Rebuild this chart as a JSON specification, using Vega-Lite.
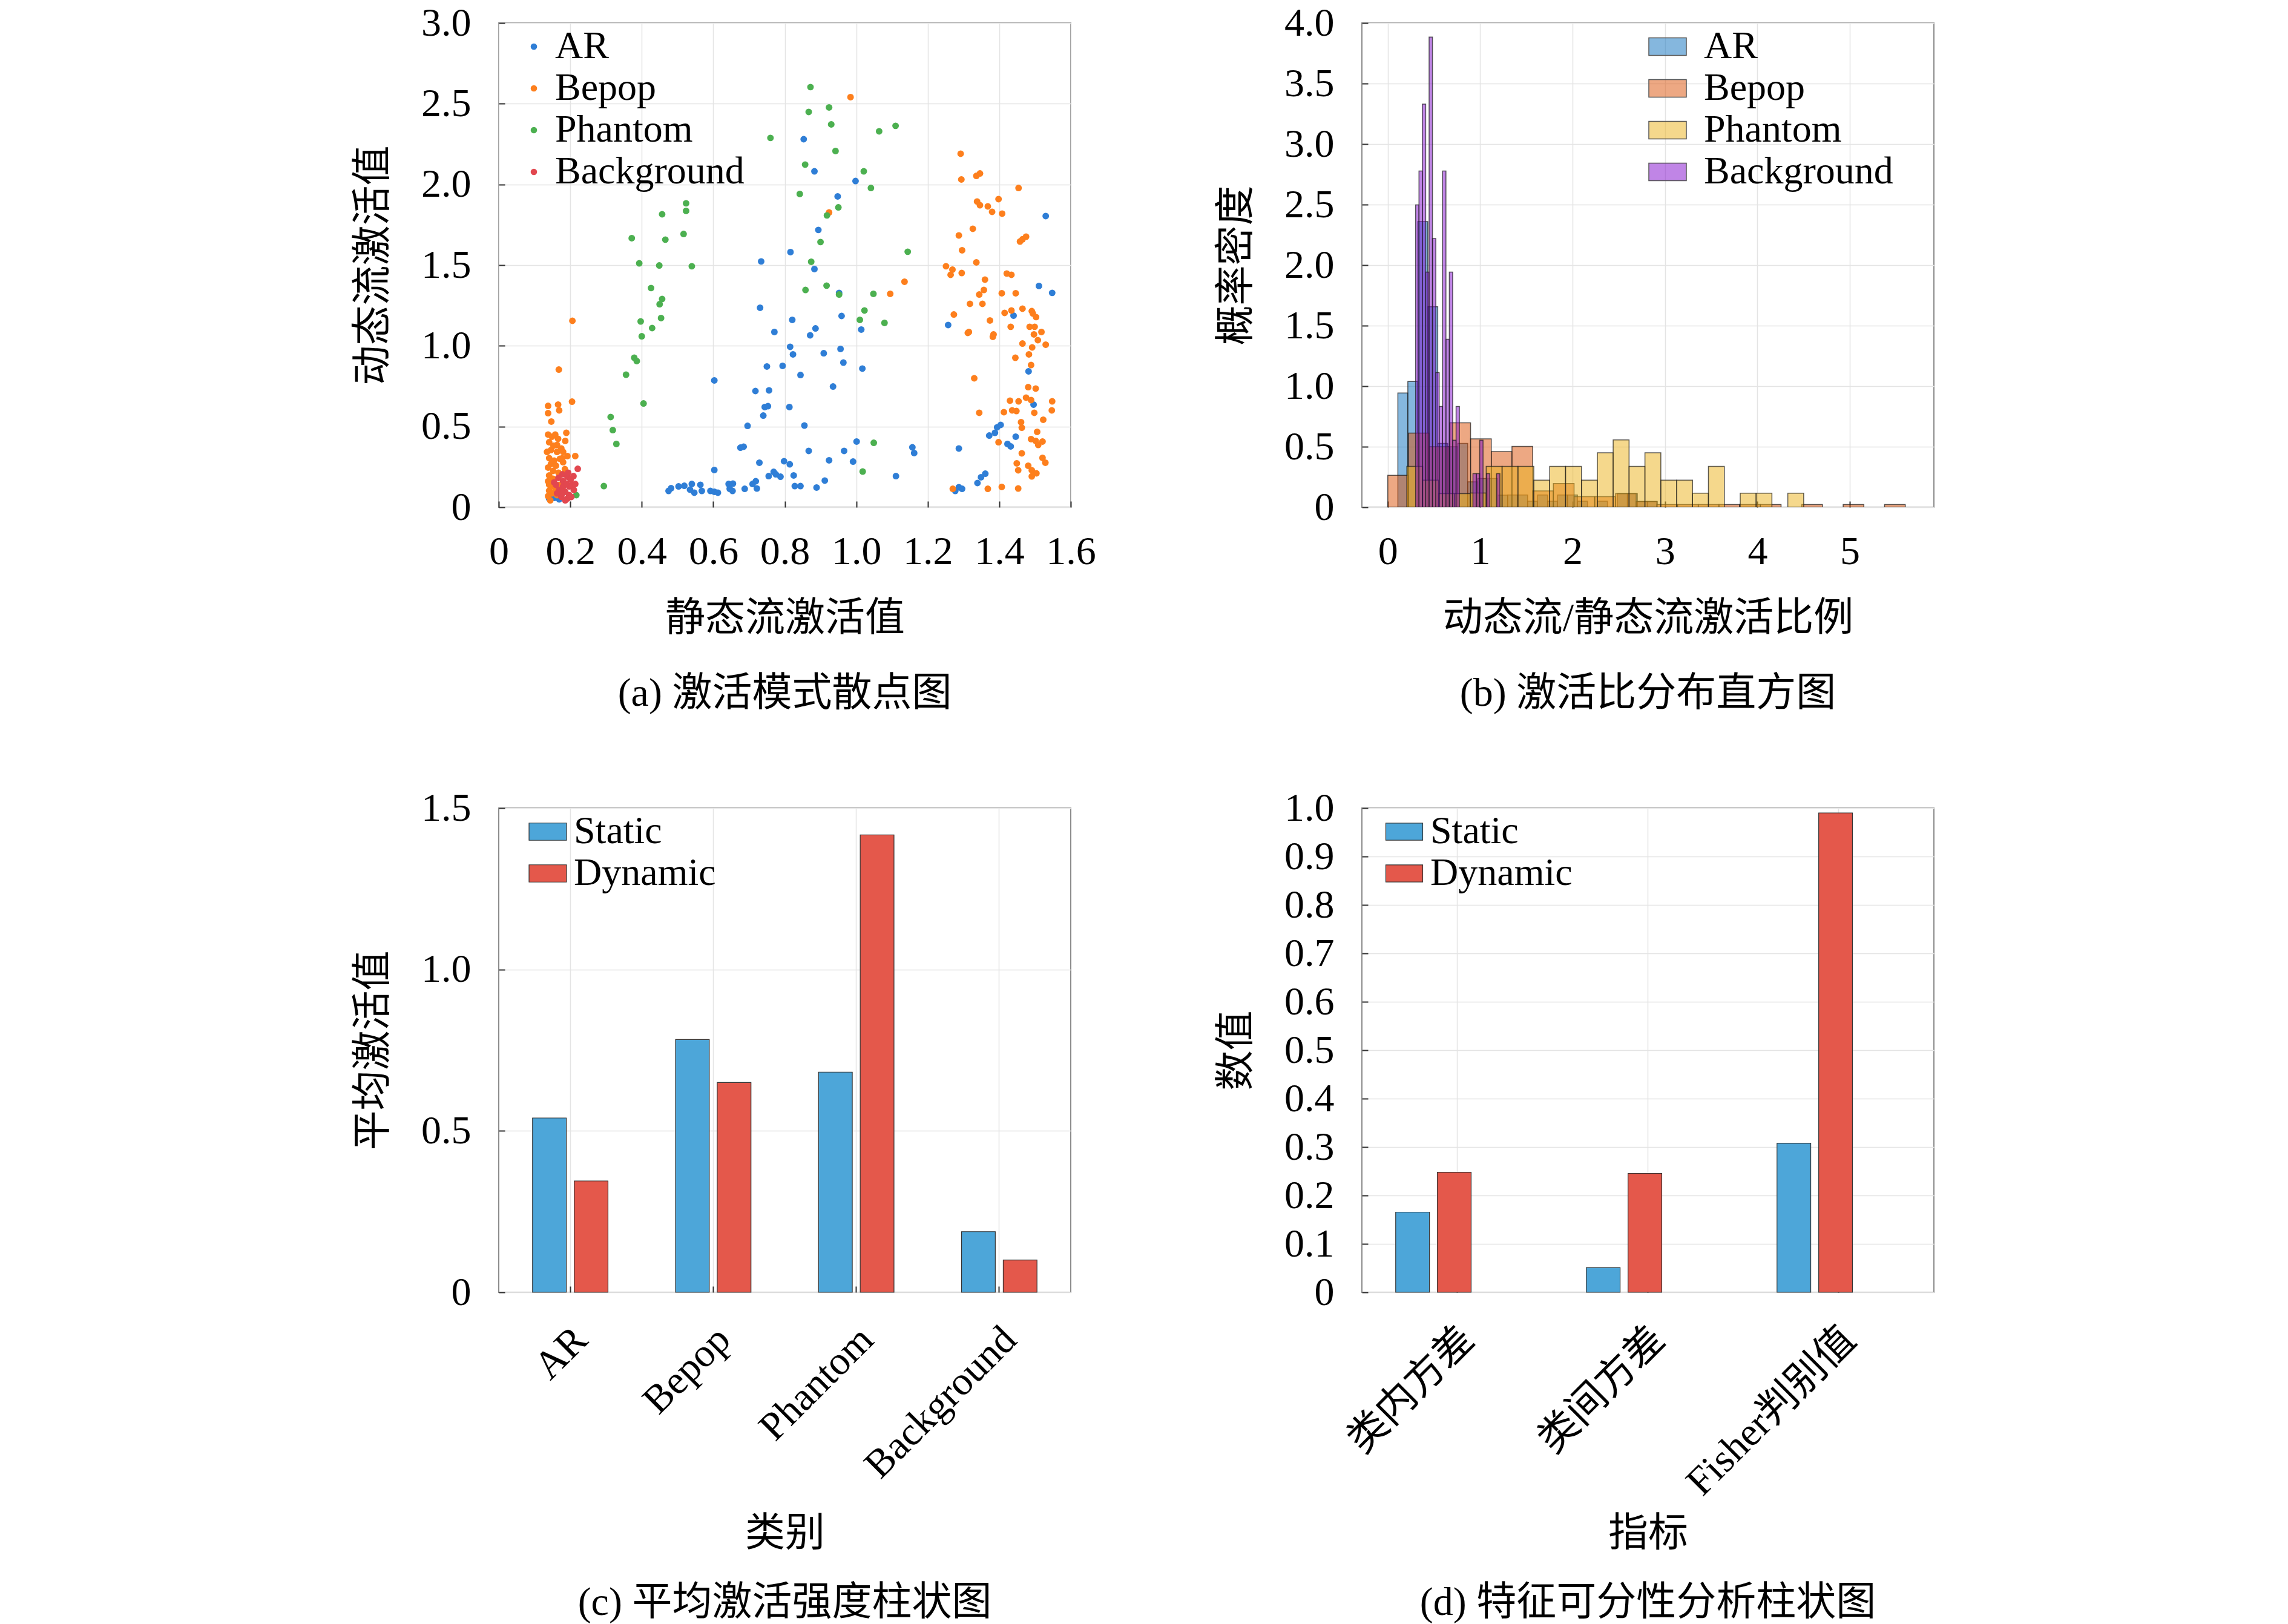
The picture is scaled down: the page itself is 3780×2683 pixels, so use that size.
{
  "$schema": "https://vega.github.io/schema/vega-lite/v6.json",
  "background": "white",
  "padding": {"left": 582, "top": 4, "right": 10, "bottom": 5},
  "autosize": {"type": "pad"},
  "bounds": "flush",
  "columns": 2,
  "spacing": {"row": 497, "column": 481},
  "resolve": {"scale": {"color": "independent", "fill": "independent", "x": "independent", "y": "independent"}, "legend": {"color": "independent", "fill": "independent"}},
  "config": {
    "view": {"stroke": "#8c8c8c", "strokeWidth": 2},
    "axis": {
      "labelFont": "Liberation Serif, Noto Sans CJK SC", "labelFontSize": 66, "labelColor": "#000",
      "titleFont": "Liberation Serif, Noto Sans CJK SC", "titleFontSize": 66, "titleFontWeight": "normal", "titleColor": "#000",
      "domain": false, "ticks": true, "tickSize": -10, "tickColor": "#333", "tickWidth": 2,
      "grid": true, "gridColor": "#e4e4e4", "gridWidth": 1.5,
      "labelPadding": 56, "titlePadding": 45, "labelFlush": false, "labelOverlap": false, "labelLimit": 1000
    },
    "legend": {
      "labelFont": "Liberation Serif", "labelFontSize": 64, "labelColor": "#000", "labelLimit": 1000,
      "padding": 0, "rowPadding": 5, "orient": "none", "title": null
    },
    "title": {"font": "Liberation Serif, Noto Sans CJK SC", "fontSize": 66, "fontWeight": "normal", "color": "#000", "orient": "bottom", "offset": 60}
  },
  "datasets": {
    "scatter": [
      {"c":"AR","s":0.853,"d":2.280},{"c":"AR","s":0.883,"d":2.081},{"c":"AR","s":0.998,"d":2.021},{"c":"AR","s":0.948,"d":1.926},{"c":"AR","s":1.530,"d":1.804},{"c":"AR","s":0.894,"d":1.718},{"c":"AR","s":0.816,"d":1.581},{"c":"AR","s":0.734,"d":1.523},{"c":"AR","s":0.883,"d":1.476},{"c":"AR","s":1.511,"d":1.371},{"c":"AR","s":1.548,"d":1.328},{"c":"AR","s":0.952,"d":1.328},{"c":"AR","s":0.731,"d":1.236},{"c":"AR","s":0.959,"d":1.185},{"c":"AR","s":1.440,"d":1.187},{"c":"AR","s":0.821,"d":1.161},{"c":"AR","s":1.257,"d":1.129},{"c":"AR","s":0.886,"d":1.108},{"c":"AR","s":1.014,"d":1.101},{"c":"AR","s":0.771,"d":1.086},{"c":"AR","s":0.871,"d":1.065},{"c":"AR","s":0.815,"d":0.994},{"c":"AR","s":0.823,"d":0.947},{"c":"AR","s":0.956,"d":0.981},{"c":"AR","s":0.909,"d":0.954},{"c":"AR","s":0.964,"d":0.896},{"c":"AR","s":0.794,"d":0.876},{"c":"AR","s":0.750,"d":0.872},{"c":"AR","s":1.017,"d":0.859},{"c":"AR","s":0.603,"d":0.786},{"c":"AR","s":0.844,"d":0.819},{"c":"AR","s":0.935,"d":0.748},{"c":"AR","s":0.718,"d":0.720},{"c":"AR","s":0.756,"d":0.724},{"c":"AR","s":1.482,"d":0.842},{"c":"AR","s":0.744,"d":0.621},{"c":"AR","s":0.753,"d":0.626},{"c":"AR","s":0.740,"d":0.568},{"c":"AR","s":0.813,"d":0.621},{"c":"AR","s":1.496,"d":0.636},{"c":"AR","s":0.696,"d":0.504},{"c":"AR","s":0.855,"d":0.506},{"c":"AR","s":1.394,"d":0.495},{"c":"AR","s":1.404,"d":0.510},{"c":"AR","s":1.372,"d":0.444},{"c":"AR","s":1.388,"d":0.461},{"c":"AR","s":1.446,"d":0.437},{"c":"AR","s":0.676,"d":0.369},{"c":"AR","s":0.685,"d":0.375},{"c":"AR","s":1.001,"d":0.407},{"c":"AR","s":1.423,"d":0.392},{"c":"AR","s":1.432,"d":0.377},{"c":"AR","s":1.157,"d":0.371},{"c":"AR","s":1.162,"d":0.336},{"c":"AR","s":1.287,"d":0.364},{"c":"AR","s":0.867,"d":0.349},{"c":"AR","s":0.966,"d":0.349},{"c":"AR","s":0.924,"d":0.291},{"c":"AR","s":0.798,"d":0.285},{"c":"AR","s":0.729,"d":0.276},{"c":"AR","s":0.814,"d":0.266},{"c":"AR","s":0.991,"d":0.283},{"c":"AR","s":0.603,"d":0.231},{"c":"AR","s":0.769,"d":0.219},{"c":"AR","s":0.775,"d":0.204},{"c":"AR","s":0.755,"d":0.193},{"c":"AR","s":0.788,"d":0.189},{"c":"AR","s":0.825,"d":0.197},{"c":"AR","s":1.111,"d":0.193},{"c":"AR","s":1.361,"d":0.208},{"c":"AR","s":1.349,"d":0.186},{"c":"AR","s":1.339,"d":0.150},{"c":"AR","s":0.912,"d":0.165},{"c":"AR","s":0.828,"d":0.131},{"c":"AR","s":0.844,"d":0.131},{"c":"AR","s":0.889,"d":0.122},{"c":"AR","s":1.287,"d":0.124},{"c":"AR","s":1.277,"d":0.101},{"c":"AR","s":1.296,"d":0.114},{"c":"AR","s":0.710,"d":0.144},{"c":"AR","s":0.719,"d":0.161},{"c":"AR","s":0.722,"d":0.116},{"c":"AR","s":0.688,"d":0.114},{"c":"AR","s":0.643,"d":0.144},{"c":"AR","s":0.655,"d":0.146},{"c":"AR","s":0.646,"d":0.114},{"c":"AR","s":0.654,"d":0.101},{"c":"AR","s":0.592,"d":0.101},{"c":"AR","s":0.603,"d":0.096},{"c":"AR","s":0.613,"d":0.090},{"c":"AR","s":0.568,"d":0.101},{"c":"AR","s":0.564,"d":0.139},{"c":"AR","s":0.540,"d":0.144},{"c":"AR","s":0.535,"d":0.109},{"c":"AR","s":0.547,"d":0.090},{"c":"AR","s":0.519,"d":0.133},{"c":"AR","s":0.503,"d":0.129},{"c":"AR","s":0.482,"d":0.118},{"c":"AR","s":0.475,"d":0.101},{"c":"AR","s":0.141,"d":0.054},{"c":"AR","s":0.155,"d":0.058},{"c":"AR","s":0.169,"d":0.049},
      {"c":"Bepop","s":0.984,"d":2.541},{"c":"Bepop","s":1.292,"d":2.190},{"c":"Bepop","s":1.294,"d":2.031},{"c":"Bepop","s":1.336,"d":2.053},{"c":"Bepop","s":1.346,"d":2.068},{"c":"Bepop","s":1.454,"d":1.978},{"c":"Bepop","s":0.924,"d":1.826},{"c":"Bepop","s":1.338,"d":1.894},{"c":"Bepop","s":1.346,"d":1.871},{"c":"Bepop","s":1.368,"d":1.864},{"c":"Bepop","s":1.398,"d":1.909},{"c":"Bepop","s":1.380,"d":1.830},{"c":"Bepop","s":1.408,"d":1.819},{"c":"Bepop","s":1.326,"d":1.725},{"c":"Bepop","s":1.287,"d":1.684},{"c":"Bepop","s":1.458,"d":1.646},{"c":"Bepop","s":1.475,"d":1.676},{"c":"Bepop","s":1.465,"d":1.660},{"c":"Bepop","s":1.296,"d":1.592},{"c":"Bepop","s":1.336,"d":1.517},{"c":"Bepop","s":1.251,"d":1.493},{"c":"Bepop","s":1.269,"d":1.472},{"c":"Bepop","s":1.264,"d":1.440},{"c":"Bepop","s":1.295,"d":1.451},{"c":"Bepop","s":1.421,"d":1.448},{"c":"Bepop","s":1.434,"d":1.440},{"c":"Bepop","s":1.135,"d":1.397},{"c":"Bepop","s":1.360,"d":1.410},{"c":"Bepop","s":1.357,"d":1.346},{"c":"Bepop","s":1.344,"d":1.318},{"c":"Bepop","s":1.095,"d":1.322},{"c":"Bepop","s":1.407,"d":1.326},{"c":"Bepop","s":1.446,"d":1.326},{"c":"Bepop","s":1.318,"d":1.260},{"c":"Bepop","s":1.353,"d":1.260},{"c":"Bepop","s":1.415,"d":1.204},{"c":"Bepop","s":1.434,"d":1.219},{"c":"Bepop","s":1.465,"d":1.230},{"c":"Bepop","s":1.491,"d":1.215},{"c":"Bepop","s":1.494,"d":1.200},{"c":"Bepop","s":1.503,"d":1.178},{"c":"Bepop","s":1.273,"d":1.194},{"c":"Bepop","s":1.374,"d":1.157},{"c":"Bepop","s":1.315,"d":1.086},{"c":"Bepop","s":1.312,"d":1.080},{"c":"Bepop","s":1.432,"d":1.118},{"c":"Bepop","s":1.485,"d":1.118},{"c":"Bepop","s":1.499,"d":1.118},{"c":"Bepop","s":1.518,"d":1.086},{"c":"Bepop","s":1.384,"d":1.071},{"c":"Bepop","s":1.382,"d":1.056},{"c":"Bepop","s":1.497,"d":1.071},{"c":"Bepop","s":1.508,"d":1.035},{"c":"Bepop","s":1.465,"d":1.014},{"c":"Bepop","s":1.530,"d":1.007},{"c":"Bepop","s":1.492,"d":0.990},{"c":"Bepop","s":1.445,"d":0.926},{"c":"Bepop","s":1.483,"d":0.947},{"c":"Bepop","s":1.489,"d":0.881},{"c":"Bepop","s":1.330,"d":0.799},{"c":"Bepop","s":1.481,"d":0.744},{"c":"Bepop","s":1.502,"d":0.735},{"c":"Bepop","s":1.430,"d":0.660},{"c":"Bepop","s":1.454,"d":0.656},{"c":"Bepop","s":1.475,"d":0.679},{"c":"Bepop","s":1.489,"d":0.664},{"c":"Bepop","s":1.548,"d":0.656},{"c":"Bepop","s":1.344,"d":0.585},{"c":"Bepop","s":1.413,"d":0.589},{"c":"Bepop","s":1.436,"d":0.600},{"c":"Bepop","s":1.448,"d":0.596},{"c":"Bepop","s":1.498,"d":0.585},{"c":"Bepop","s":1.547,"d":0.600},{"c":"Bepop","s":1.461,"d":0.527},{"c":"Bepop","s":1.463,"d":0.493},{"c":"Bepop","s":1.523,"d":0.542},{"c":"Bepop","s":1.506,"d":0.467},{"c":"Bepop","s":1.398,"d":0.403},{"c":"Bepop","s":1.489,"d":0.422},{"c":"Bepop","s":1.502,"d":0.411},{"c":"Bepop","s":1.509,"d":0.386},{"c":"Bepop","s":1.521,"d":0.407},{"c":"Bepop","s":1.463,"d":0.334},{"c":"Bepop","s":1.521,"d":0.306},{"c":"Bepop","s":1.529,"d":0.276},{"c":"Bepop","s":1.449,"d":0.272},{"c":"Bepop","s":1.481,"d":0.257},{"c":"Bepop","s":1.491,"d":0.229},{"c":"Bepop","s":1.453,"d":0.229},{"c":"Bepop","s":1.491,"d":0.191},{"c":"Bepop","s":1.504,"d":0.210},{"c":"Bepop","s":1.270,"d":0.114},{"c":"Bepop","s":1.368,"d":0.114},{"c":"Bepop","s":1.407,"d":0.126},{"c":"Bepop","s":1.453,"d":0.116},
      {"c":"Bepop","s":0.206,"d":1.155},{"c":"Bepop","s":0.168,"d":0.853},{"c":"Bepop","s":0.205,"d":0.654},{"c":"Bepop","s":0.138,"d":0.628},{"c":"Bepop","s":0.166,"d":0.636},{"c":"Bepop","s":0.169,"d":0.600},{"c":"Bepop","s":0.138,"d":0.583},{"c":"Bepop","s":0.147,"d":0.531},{"c":"Bepop","s":0.138,"d":0.450},{"c":"Bepop","s":0.149,"d":0.437},{"c":"Bepop","s":0.158,"d":0.450},{"c":"Bepop","s":0.166,"d":0.424},{"c":"Bepop","s":0.141,"d":0.403},{"c":"Bepop","s":0.153,"d":0.381},{"c":"Bepop","s":0.146,"d":0.354},{"c":"Bepop","s":0.163,"d":0.343},{"c":"Bepop","s":0.175,"d":0.364},{"c":"Bepop","s":0.186,"d":0.411},{"c":"Bepop","s":0.189,"d":0.461},{"c":"Bepop","s":0.180,"d":0.343},{"c":"Bepop","s":0.192,"d":0.317},{"c":"Bepop","s":0.214,"d":0.317},{"c":"Bepop","s":0.141,"d":0.304},{"c":"Bepop","s":0.155,"d":0.289},{"c":"Bepop","s":0.171,"d":0.300},{"c":"Bepop","s":0.146,"d":0.268},{"c":"Bepop","s":0.138,"d":0.246},{"c":"Bepop","s":0.160,"d":0.257},{"c":"Bepop","s":0.180,"d":0.279},{"c":"Bepop","s":0.152,"d":0.225},{"c":"Bepop","s":0.141,"d":0.197},{"c":"Bepop","s":0.167,"d":0.214},{"c":"Bepop","s":0.138,"d":0.161},{"c":"Bepop","s":0.152,"d":0.176},{"c":"Bepop","s":0.146,"d":0.133},{"c":"Bepop","s":0.141,"d":0.103},{"c":"Bepop","s":0.158,"d":0.118},{"c":"Bepop","s":0.138,"d":0.069},{"c":"Bepop","s":0.149,"d":0.086},{"c":"Bepop","s":0.169,"d":0.139},{"c":"Bepop","s":0.144,"d":0.043},{"c":"Bepop","s":0.135,"d":0.343},{"c":"Bepop","s":0.163,"d":0.386},{"c":"Bepop","s":0.178,"d":0.304},{"c":"Bepop","s":0.185,"d":0.236},{"c":"Bepop","s":0.141,"d":0.139},{"c":"Bepop","s":0.163,"d":0.075},
      {"c":"Phantom","s":0.872,"d":2.603},{"c":"Phantom","s":0.924,"d":2.477},{"c":"Phantom","s":0.867,"d":2.449},{"c":"Phantom","s":0.930,"d":2.372},{"c":"Phantom","s":1.110,"d":2.363},{"c":"Phantom","s":1.064,"d":2.329},{"c":"Phantom","s":0.760,"d":2.288},{"c":"Phantom","s":0.942,"d":2.207},{"c":"Phantom","s":0.857,"d":2.123},{"c":"Phantom","s":1.021,"d":2.081},{"c":"Phantom","s":1.041,"d":1.978},{"c":"Phantom","s":0.842,"d":1.941},{"c":"Phantom","s":0.950,"d":1.858},{"c":"Phantom","s":0.918,"d":1.808},{"c":"Phantom","s":0.524,"d":1.883},{"c":"Phantom","s":0.524,"d":1.836},{"c":"Phantom","s":0.457,"d":1.815},{"c":"Phantom","s":0.517,"d":1.693},{"c":"Phantom","s":0.372,"d":1.667},{"c":"Phantom","s":0.466,"d":1.658},{"c":"Phantom","s":0.900,"d":1.643},{"c":"Phantom","s":1.144,"d":1.583},{"c":"Phantom","s":0.874,"d":1.521},{"c":"Phantom","s":0.393,"d":1.511},{"c":"Phantom","s":0.449,"d":1.498},{"c":"Phantom","s":0.540,"d":1.493},{"c":"Phantom","s":0.917,"d":1.373},{"c":"Phantom","s":0.858,"d":1.346},{"c":"Phantom","s":0.426,"d":1.358},{"c":"Phantom","s":0.952,"d":1.318},{"c":"Phantom","s":1.048,"d":1.322},{"c":"Phantom","s":0.457,"d":1.290},{"c":"Phantom","s":0.450,"d":1.258},{"c":"Phantom","s":1.023,"d":1.219},{"c":"Phantom","s":0.454,"d":1.172},{"c":"Phantom","s":0.397,"d":1.151},{"c":"Phantom","s":1.010,"d":1.161},{"c":"Phantom","s":1.079,"d":1.142},{"c":"Phantom","s":0.429,"d":1.110},{"c":"Phantom","s":0.400,"d":1.059},{"c":"Phantom","s":0.379,"d":0.926},{"c":"Phantom","s":0.386,"d":0.906},{"c":"Phantom","s":0.356,"d":0.821},{"c":"Phantom","s":0.405,"d":0.643},{"c":"Phantom","s":0.313,"d":0.559},{"c":"Phantom","s":0.319,"d":0.478},{"c":"Phantom","s":0.329,"d":0.392},{"c":"Phantom","s":1.049,"d":0.399},{"c":"Phantom","s":1.018,"d":0.221},{"c":"Phantom","s":0.294,"d":0.131},{"c":"Phantom","s":0.217,"d":0.075},
      {"c":"Background","s":0.221,"d":0.238},{"c":"Background","s":0.155,"d":0.154},{"c":"Background","s":0.178,"d":0.204},{"c":"Background","s":0.192,"d":0.189},{"c":"Background","s":0.201,"d":0.171},{"c":"Background","s":0.205,"d":0.139},{"c":"Background","s":0.180,"d":0.129},{"c":"Background","s":0.169,"d":0.107},{"c":"Background","s":0.186,"d":0.096},{"c":"Background","s":0.197,"d":0.075},{"c":"Background","s":0.210,"d":0.107},{"c":"Background","s":0.214,"d":0.144},{"c":"Background","s":0.175,"d":0.064},{"c":"Background","s":0.192,"d":0.054},{"c":"Background","s":0.163,"d":0.086},{"c":"Background","s":0.180,"d":0.161},{"c":"Background","s":0.197,"d":0.129},{"c":"Background","s":0.167,"d":0.182},{"c":"Background","s":0.186,"d":0.043},{"c":"Background","s":0.203,"d":0.064},{"c":"Background","s":0.175,"d":0.096},{"c":"Background","s":0.194,"d":0.214},{"c":"Background","s":0.209,"d":0.193},{"c":"Background","s":0.160,"d":0.139},{"c":"Background","s":0.189,"d":0.146},{"c":"Background","s":0.178,"d":0.086}
    ],
    "hist": [
      {"c":"AR","lo":0.109,"hi":0.217,"v":0.944},{"c":"AR","lo":0.217,"hi":0.325,"v":1.039},{"c":"AR","lo":0.325,"hi":0.433,"v":2.36},{"c":"AR","lo":0.433,"hi":0.541,"v":1.656},{"c":"AR","lo":0.541,"hi":0.649,"v":0.527},{"c":"AR","lo":0.649,"hi":0.757,"v":0.5},{"c":"AR","lo":0.757,"hi":0.865,"v":0.527},{"c":"AR","lo":0.865,"hi":0.973,"v":0.21},{"c":"AR","lo":0.973,"hi":1.081,"v":0.237},{"c":"AR","lo":1.081,"hi":1.189,"v":0.237},{"c":"AR","lo":1.189,"hi":1.297,"v":0.1},{"c":"AR","lo":1.297,"hi":1.405,"v":0.101},{"c":"AR","lo":1.405,"hi":1.513,"v":0.101},{"c":"AR","lo":1.513,"hi":1.621,"v":0.05},{"c":"AR","lo":1.621,"hi":1.729,"v":0.101},{"c":"AR","lo":1.729,"hi":1.837,"v":0.05},{"c":"AR","lo":1.837,"hi":1.945,"v":0.101},{"c":"AR","lo":1.945,"hi":2.053,"v":0.101},{"c":"AR","lo":2.053,"hi":2.161,"v":0.05},{"c":"AR","lo":2.269,"hi":2.377,"v":0.05},{"c":"AR","lo":2.485,"hi":2.593,"v":0.113},{"c":"AR","lo":2.593,"hi":2.701,"v":0.113},{"c":"AR","lo":2.701,"hi":2.809,"v":0.047},{"c":"AR","lo":2.809,"hi":2.917,"v":0.047},
      {"c":"Bepop","lo":0.0,"hi":0.224,"v":0.264},{"c":"Bepop","lo":0.224,"hi":0.448,"v":0.612},{"c":"Bepop","lo":0.448,"hi":0.672,"v":0.5},{"c":"Bepop","lo":0.672,"hi":0.896,"v":0.698},{"c":"Bepop","lo":0.896,"hi":1.12,"v":0.565},{"c":"Bepop","lo":1.12,"hi":1.344,"v":0.46},{"c":"Bepop","lo":1.344,"hi":1.568,"v":0.503},{"c":"Bepop","lo":1.568,"hi":1.792,"v":0.135},{"c":"Bepop","lo":1.792,"hi":2.016,"v":0.196},{"c":"Bepop","lo":2.016,"hi":2.24,"v":0.088},{"c":"Bepop","lo":2.24,"hi":2.464,"v":0.088},{"c":"Bepop","lo":2.464,"hi":2.688,"v":0.113},{"c":"Bepop","lo":2.688,"hi":2.912,"v":0.047},{"c":"Bepop","lo":2.912,"hi":3.136,"v":0.022},{"c":"Bepop","lo":3.136,"hi":3.36,"v":0.022},{"c":"Bepop","lo":3.36,"hi":3.584,"v":0.022},{"c":"Bepop","lo":3.584,"hi":3.808,"v":0.022},{"c":"Bepop","lo":3.808,"hi":4.032,"v":0.022},{"c":"Bepop","lo":4.032,"hi":4.256,"v":0.022},{"c":"Bepop","lo":4.48,"hi":4.704,"v":0.022},{"c":"Bepop","lo":4.928,"hi":5.152,"v":0.022},{"c":"Bepop","lo":5.376,"hi":5.6,"v":0.022},
      {"c":"Phantom","lo":0.206,"hi":0.378,"v":0.337},{"c":"Phantom","lo":0.378,"hi":0.55,"v":0.224},{"c":"Phantom","lo":0.55,"hi":0.721,"v":0.112},{"c":"Phantom","lo":0.721,"hi":0.893,"v":0.112},{"c":"Phantom","lo":0.893,"hi":1.065,"v":0.118},{"c":"Phantom","lo":1.065,"hi":1.237,"v":0.337},{"c":"Phantom","lo":1.237,"hi":1.409,"v":0.337},{"c":"Phantom","lo":1.409,"hi":1.58,"v":0.337},{"c":"Phantom","lo":1.58,"hi":1.752,"v":0.224},{"c":"Phantom","lo":1.752,"hi":1.924,"v":0.337},{"c":"Phantom","lo":1.924,"hi":2.096,"v":0.337},{"c":"Phantom","lo":2.096,"hi":2.268,"v":0.224},{"c":"Phantom","lo":2.268,"hi":2.439,"v":0.45},{"c":"Phantom","lo":2.439,"hi":2.611,"v":0.556},{"c":"Phantom","lo":2.611,"hi":2.783,"v":0.337},{"c":"Phantom","lo":2.783,"hi":2.955,"v":0.45},{"c":"Phantom","lo":2.955,"hi":3.127,"v":0.224},{"c":"Phantom","lo":3.127,"hi":3.298,"v":0.224},{"c":"Phantom","lo":3.298,"hi":3.47,"v":0.116},{"c":"Phantom","lo":3.47,"hi":3.642,"v":0.337},{"c":"Phantom","lo":3.814,"hi":3.986,"v":0.116},{"c":"Phantom","lo":3.986,"hi":4.157,"v":0.116},{"c":"Phantom","lo":4.329,"hi":4.501,"v":0.116},
      {"c":"Background","lo":0.301,"hi":0.3375,"v":2.497},{"c":"Background","lo":0.3375,"hi":0.374,"v":2.777},{"c":"Background","lo":0.374,"hi":0.4105,"v":3.33},{"c":"Background","lo":0.4105,"hi":0.447,"v":1.943},{"c":"Background","lo":0.447,"hi":0.4835,"v":3.884},{"c":"Background","lo":0.4835,"hi":0.52,"v":2.22},{"c":"Background","lo":0.52,"hi":0.5565,"v":1.113},{"c":"Background","lo":0.5565,"hi":0.593,"v":0.833},{"c":"Background","lo":0.593,"hi":0.6295,"v":2.777},{"c":"Background","lo":0.6295,"hi":0.666,"v":1.387},{"c":"Background","lo":0.666,"hi":0.7025,"v":1.943},{"c":"Background","lo":0.7025,"hi":0.739,"v":0.554},{"c":"Background","lo":0.739,"hi":0.7755,"v":0.833},{"c":"Background","lo":0.9215,"hi":0.958,"v":0.277},{"c":"Background","lo":0.958,"hi":0.9945,"v":0.277},{"c":"Background","lo":0.9945,"hi":1.031,"v":0.554},{"c":"Background","lo":1.0675,"hi":1.104,"v":0.277},{"c":"Background","lo":1.177,"hi":1.2135,"v":0.277}
    ],
    "means": [
      {"cat":"AR","series":"Static","v":0.54},{"cat":"AR","series":"Dynamic","v":0.345},
      {"cat":"Bepop","series":"Static","v":0.783},{"cat":"Bepop","series":"Dynamic","v":0.65},
      {"cat":"Phantom","series":"Static","v":0.682},{"cat":"Phantom","series":"Dynamic","v":1.417},
      {"cat":"Background","series":"Static","v":0.188},{"cat":"Background","series":"Dynamic","v":0.1}
    ],
    "sep": [
      {"cat":"类内方差","series":"Static","v":0.1656},{"cat":"类内方差","series":"Dynamic","v":0.248},
      {"cat":"类间方差","series":"Static","v":0.051},{"cat":"类间方差","series":"Dynamic","v":0.2456},
      {"cat":"Fisher判别值","series":"Static","v":0.308},{"cat":"Fisher判别值","series":"Dynamic","v":0.99}
    ]
  },
  "concat": [
    {
      "width": 945, "height": 800,
      "title": {"text": "(a) 激活模式散点图"},
      "data": {"name": "scatter"},
      "mark": {"type": "circle", "size": 120, "opacity": 1},
      "encoding": {
        "x": {"field": "s", "type": "quantitative", "title": "静态流激活值",
          "scale": {"domain": [0, 1.6], "nice": false, "zero": false},
          "axis": {"values": [0, 0.2, 0.4, 0.6, 0.8, 1, 1.2, 1.4, 1.6], "labelExpr": "datum.value == 0 ? '0' : format(datum.value, '.1f')", "labelPadding": 51}},
        "y": {"field": "d", "type": "quantitative", "title": "动态流激活值",
          "scale": {"domain": [0, 3], "nice": false},
          "axis": {"values": [0, 0.5, 1, 1.5, 2, 2.5, 3], "labelExpr": "datum.value == 0 ? '0' : format(datum.value, '.1f')"}},
        "color": {"field": "c", "type": "nominal",
          "scale": {"domain": ["AR", "Bepop", "Phantom", "Background"], "range": ["#2f7ed6", "#fd7f1d", "#4cb050", "#e2474f"]},
          "legend": {"legendX": 26, "legendY": 7, "symbolType": "circle", "symbolSize": 113, "labelOffset": 3}}
      }
    },
    {
      "width": 945, "height": 800,
      "title": {"text": "(b) 激活比分布直方图"},
      "data": {"name": "hist"},
      "mark": {"type": "bar", "fillOpacity": 0.5, "stroke": "#1a1a1a", "strokeWidth": 1.5, "strokeOpacity": 0.7, "clip": true},
      "encoding": {
        "x": {"field": "lo", "type": "quantitative", "title": "动态流/静态流激活比例",
          "scale": {"domain": [-0.28, 5.91], "nice": false, "zero": false},
          "axis": {"values": [0, 1, 2, 3, 4, 5], "format": "d", "labelPadding": 51}},
        "x2": {"field": "hi"},
        "y": {"field": "v", "type": "quantitative", "title": "概率密度", "stack": null,
          "scale": {"domain": [0, 4], "nice": false},
          "axis": {"values": [0, 0.5, 1, 1.5, 2, 2.5, 3, 3.5, 4], "labelExpr": "datum.value == 0 ? '0' : format(datum.value, '.1f')"}},
        "y2": {"datum": 0},
        "fill": {"field": "c", "type": "nominal",
          "scale": {"domain": ["AR", "Bepop", "Phantom", "Background"], "range": ["#0b6fbd", "#dc5208", "#ebb119", "#810bcd"]},
          "legend": {"legendX": 473, "legendY": 7, "symbolType": "M-1,-0.47H1V0.47H-1Z", "symbolSize": 3844, "labelOffset": 28,
            "symbolStrokeColor": "#555", "symbolStrokeWidth": 1.5,
            "encode": {"symbols": {"update": {"fillOpacity": {"value": 0.5}, "opacity": {"value": 1}}}}}}
      }
    },
    {
      "width": 945, "height": 800,
      "title": {"text": "(c) 平均激活强度柱状图", "offset": 50},
      "data": {"name": "means"},
      "mark": {"type": "bar", "stroke": "#333", "strokeWidth": 1.2},
      "encoding": {
        "x": {"field": "cat", "type": "nominal", "sort": ["AR", "Bepop", "Phantom", "Background"], "title": "类别",
          "scale": {"paddingInner": 0, "paddingOuter": 0},
          "axis": {"labelAngle": -45, "bandPosition": 0.5, "grid": true, "labelPadding": 55, "labelOffset": -5, "titleY": 366}},
        "xOffset": {"field": "series", "sort": ["Static", "Dynamic"], "scale": {"paddingInner": 0.19, "paddingOuter": 0.81}},
        "y": {"field": "v", "type": "quantitative", "title": "平均激活值",
          "scale": {"domain": [0, 1.5], "nice": false},
          "axis": {"values": [0, 0.5, 1, 1.5], "labelExpr": "datum.value == 0 ? '0' : format(datum.value, '.1f')"}},
        "fill": {"field": "series", "type": "nominal",
          "scale": {"domain": ["Static", "Dynamic"], "range": ["#4da6d9", "#e4584b"]},
          "legend": {"legendX": 49, "legendY": 7, "symbolType": "M-1,-0.46H1V0.46H-1Z", "symbolSize": 3844, "labelOffset": 11,
            "symbolStrokeColor": "#333", "symbolStrokeWidth": 1.2}}
      }
    },
    {
      "width": 945, "height": 800,
      "title": {"text": "(d) 特征可分性分析柱状图", "offset": 50},
      "data": {"name": "sep"},
      "mark": {"type": "bar", "stroke": "#333", "strokeWidth": 1.2},
      "encoding": {
        "x": {"field": "cat", "type": "nominal", "sort": ["类内方差", "类间方差", "Fisher判别值"], "title": "指标",
          "scale": {"paddingInner": 0, "paddingOuter": 0},
          "axis": {"labelAngle": -45, "bandPosition": 0.5, "grid": true, "labelPadding": 55, "labelOffset": -5, "titleY": 366}},
        "xOffset": {"field": "series", "sort": ["Static", "Dynamic"], "scale": {"paddingInner": 0.193, "paddingOuter": 0.853}},
        "y": {"field": "v", "type": "quantitative", "title": "数值",
          "scale": {"domain": [0, 1], "nice": false},
          "axis": {"values": [0, 0.1, 0.2, 0.3, 0.4, 0.5, 0.6, 0.7, 0.8, 0.9, 1], "labelExpr": "datum.value == 0 ? '0' : format(datum.value, '.1f')"}},
        "fill": {"field": "series", "type": "nominal",
          "scale": {"domain": ["Static", "Dynamic"], "range": ["#4da6d9", "#e4584b"]},
          "legend": {"legendX": 38, "legendY": 7, "symbolType": "M-1,-0.46H1V0.46H-1Z", "symbolSize": 3721, "labelOffset": 11,
            "symbolStrokeColor": "#333", "symbolStrokeWidth": 1.2}}
      }
    }
  ]
}
